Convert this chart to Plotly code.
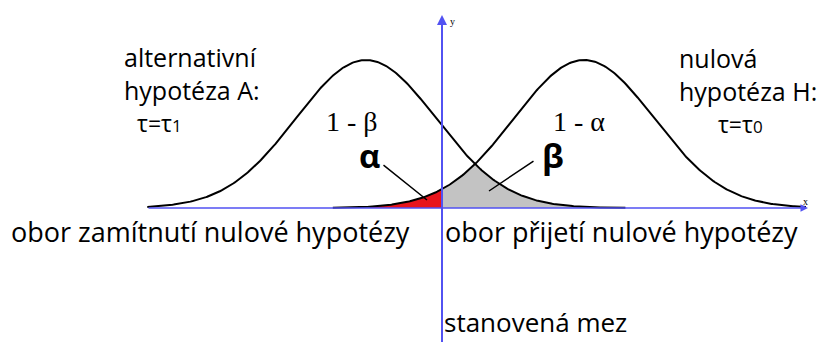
import numpy as np
import plotly.graph_objects as go

# ---- data (in units of sigma) ----
mu_alt = -1.086      # alternative hypothesis A: tau = tau1
mu_null = 2.03       # null hypothesis H: tau = tau0
sigma = 1.0
critical = 0.0       # stanovená mez
alt_range = [-4.21, 2.62]
null_range = [-1.56, 5.2]
alpha_start = -1.03
beta_end = 2.62

PAGE_W, PAGE_H = 828, 342
OFF = 8                  # default body margin of the html page
W, H = PAGE_W - OFF, PAGE_H - OFF
X0PX, SX = 442, 70.0     # page pixel of x=0, pixels per unit
Y0PX, SY = 208, 148.0    # page pixel of y=0, pixels per unit


def px(p):
    return (p - X0PX) / SX


def py(p):
    return (Y0PX - p) / SY


def bell(x, mu):
    return np.exp(-((x - mu) ** 2) / (2 * sigma ** 2))


xa = np.linspace(alt_range[0], alt_range[1], 400)
xn = np.linspace(null_range[0], null_range[1], 400)
x_alpha = np.linspace(alpha_start, critical, 100)
x_beta = np.linspace(critical, beta_end, 300)

fig = go.Figure()
fig.add_trace(go.Scatter(x=x_alpha, y=np.minimum(bell(x_alpha, mu_alt), bell(x_alpha, mu_null)),
                         fill="tozeroy", fillcolor="#e8141c", line=dict(width=0),
                         mode="lines", hoverinfo="skip"))
fig.add_trace(go.Scatter(x=x_beta, y=np.minimum(bell(x_beta, mu_alt), bell(x_beta, mu_null)),
                         fill="tozeroy", fillcolor="#c3c3c3", line=dict(width=0),
                         mode="lines", hoverinfo="skip"))
fig.add_trace(go.Scatter(x=xa, y=bell(xa, mu_alt), mode="lines",
                         line=dict(color="black", width=2), hoverinfo="skip"))
fig.add_trace(go.Scatter(x=xn, y=bell(xn, mu_null), mode="lines",
                         line=dict(color="black", width=2), hoverinfo="skip"))

blue = "#5252f2"
ann = []
# axes with arrows
ann.append(dict(x=px(808), y=0, ax=px(147), ay=0, xref="x", yref="y", axref="x", ayref="y",
                text="", showarrow=True, arrowhead=2, arrowsize=1, arrowwidth=1.5,
                arrowcolor=blue, standoff=0, startstandoff=0))
ann.append(dict(x=0, y=py(15), ax=0, ay=py(345), xref="x", yref="y", axref="x", ayref="y",
                text="", showarrow=True, arrowhead=2, arrowsize=1, arrowwidth=2,
                arrowcolor=blue, standoff=0, startstandoff=0))
# leader lines
ann.append(dict(x=px(427), y=py(200), ax=px(382), ay=py(164), xref="x", yref="y", axref="x", ayref="y",
                text="", showarrow=True, arrowhead=0, arrowwidth=1.5, arrowcolor="black",
                standoff=0, startstandoff=0))
ann.append(dict(x=px(489), y=py(191), ax=px(535), ay=py(160), xref="x", yref="y", axref="x", ayref="y",
                text="", showarrow=True, arrowhead=0, arrowwidth=1.5, arrowcolor="black",
                standoff=0, startstandoff=0))

sans = "Open Sans"
serif = "Liberation Serif"


def label(text, xp, yp, size, family=sans, anchor="left", color="black", bold=False,
          yanchor="middle", align="left"):
    t = f"<b>{text}</b>" if bold else text
    ann.append(dict(x=px(xp), y=py(yp), xref="x", yref="y", text=t, showarrow=False,
                    xanchor=anchor, yanchor=yanchor, align=align,
                    font=dict(family=family, size=size, color=color)))


NB = "&nbsp;"
label("alternativní<br>hypotéza A:<br>" + NB * 2
      + "<span style='font-size:23px'>τ=τ</span><span style='font-size:17px'>1</span>",
      122, 89, 25)
label("nulová<br>hypotéza H:<br>" + NB * 6
      + "<span style='font-size:23px'>τ=τ</span><span style='font-size:17px'>0</span>",
      677, 90, 25)
label("1 - β", 352, 121, 28, family=serif, anchor="center")
label("1 - α", 579, 121, 28, family=serif, anchor="center")
label("α", 369, 155, 33, bold=True, anchor="center")
label("β", 553, 155, 33, bold=True, anchor="center")
label("obor zamítnutí nulové hypotézy", 9, 231, 27)
label("obor přijetí nulové hypotézy", 443, 231, 27)
label("stanovená mez", 442, 342, 26, yanchor="bottom")
label("x", 805, 201, 10, family=serif, anchor="center")
label("y", 452, 21, 10, family=serif, anchor="center")

fig.update_layout(
    width=W, height=H, margin=dict(l=0, r=0, t=0, b=0),
    paper_bgcolor="white", plot_bgcolor="white", showlegend=False,
    xaxis=dict(range=[px(OFF), px(PAGE_W)], visible=False, fixedrange=True),
    yaxis=dict(range=[py(PAGE_H), py(OFF)], visible=False, fixedrange=True),
    annotations=ann,
)
fig.write_html("out.html")
